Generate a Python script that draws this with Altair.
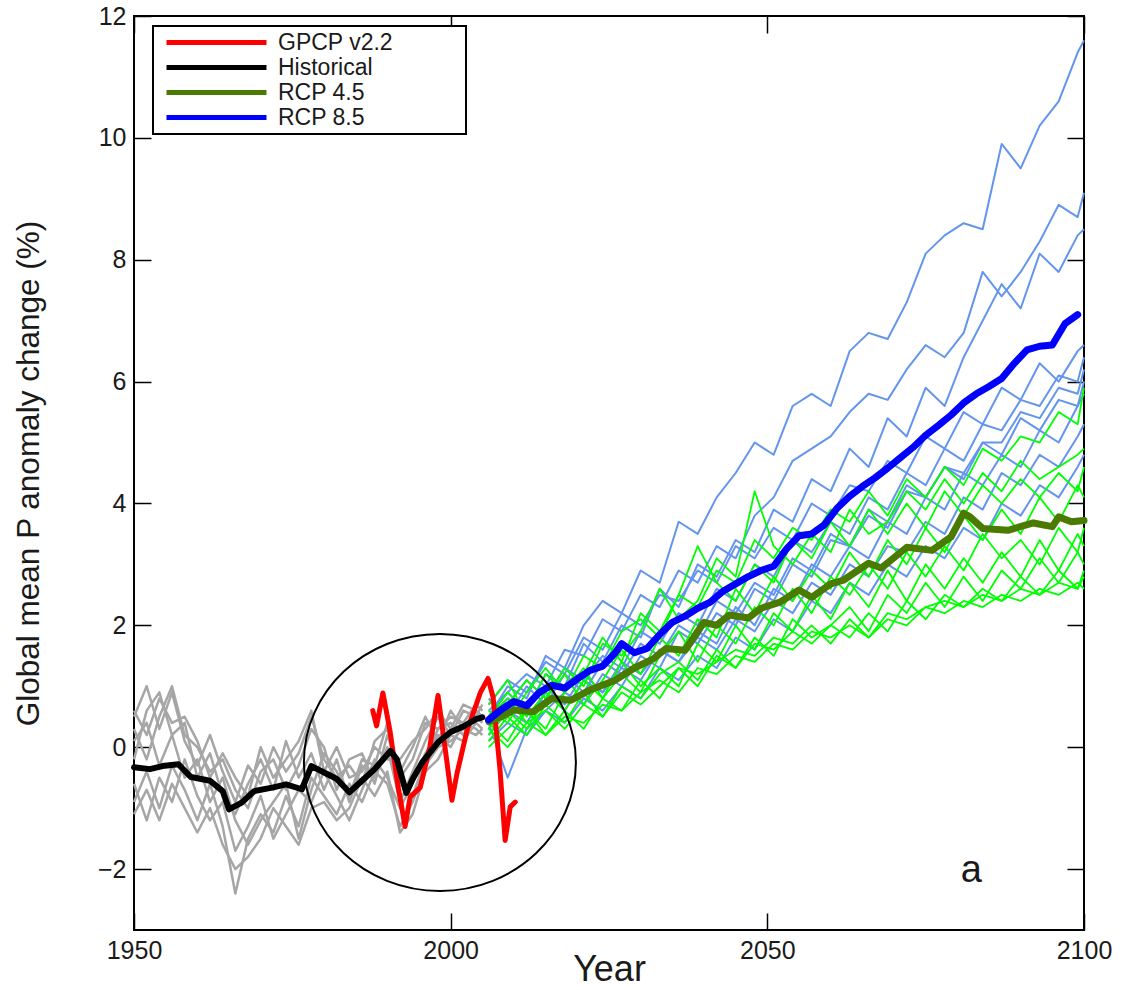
import altair as alt
import pandas as pd

FONT = "Liberation Sans, Arial, Helvetica, sans-serif"
TEXT_COLOR = "#1a1a1a"

# Axis ranges and tick positions
year_domain = [1950, 2100]
p_domain = [-3, 12]
year_ticks = [1950, 2000, 2050, 2100]
p_ticks = [-2, 0, 2, 4, 6, 8, 10, 12]

# Legend entries and their colours
series_names = ["GPCP v2.2", "Historical", "RCP 4.5", "RCP 8.5"]
series_colors = ["#ff0000", "#000000", "#4a7a00", "#0000ff"]

# ---------------------------------------------------------------------------
# Historical model runs (grey), every second year plus 2005
hist_years = [1950, 1952, 1954, 1956, 1958, 1960, 1962, 1964, 1966, 1968,
              1970, 1972, 1974, 1976, 1978, 1980, 1982, 1984, 1986, 1988,
              1990, 1992, 1994, 1996, 1998, 2000, 2002, 2004, 2005]
hist_run_1 = [0.5, 1.0, 0.3, 0.9, 0.1, -0.3, 0.2, -0.4, -0.9, -0.3,
              -0.6, 0.0, -0.4, -0.1, 0.5, -0.2, -0.5, -0.3, -0.6, 0.1,
              0.3, -0.5, -0.2, 0.4, 0.3, 0.5, 0.4, 0.7, 0.6]
hist_run_2 = [-0.2, 0.6, 0.9, 0.2, 0.4, -0.5, -0.1, -0.8, -1.1, -0.6,
              -0.2, -0.7, 0.1, -0.5, -0.1, -0.7, -0.2, -0.9, -0.3, -0.5,
              0.0, -0.9, -0.4, 0.1, 0.5, 0.2, 0.6, 0.5, 0.4]
hist_run_3 = [-0.9, -0.4, -1.0, -0.3, -0.7, -1.2, -0.6, -1.3, -2.4, -1.5,
              -1.1, -1.4, -0.8, -1.3, -0.5, -0.8, -1.1, -0.6, -0.9, -0.4,
              -0.6, -1.3, -0.9, -0.3, 0.0, 0.1, 0.3, 0.2, 0.3]
hist_run_4 = [0.3, -0.2, 0.5, 1.0, 0.2, 0.0, -0.4, -0.2, -0.7, -1.0,
              -0.4, -0.2, -0.7, -0.3, 0.3, 0.0, -0.7, -0.2, -0.1, -0.6,
              0.2, -0.4, 0.0, 0.5, 0.1, 0.6, 0.3, 0.5, 0.7]
hist_run_5 = [-0.6, -1.2, -0.5, -0.9, -0.2, -0.8, -1.2, -0.9, -1.7, -1.3,
              -0.8, -1.5, -1.1, -0.7, -0.9, -0.4, -0.8, -1.2, -0.7, -0.2,
              -0.5, -1.0, -0.6, -0.1, 0.2, 0.0, 0.4, 0.3, 0.2]
hist_run_6 = [0.1, 0.4, -0.3, 0.2, -0.5, -0.2, -0.9, -0.5, -1.2, -1.6,
              -1.2, -0.9, -0.6, -1.5, -0.7, -0.1, -0.4, -0.8, -0.2, -0.3,
              0.4, -0.6, -0.8, -0.2, 0.3, 0.4, 0.2, 0.6, 0.5]
hist_run_7 = [-1.1, -0.7, -1.2, -0.6, -1.0, -1.4, -1.0, -1.6, -2.0, -1.8,
              -1.5, -1.0, -1.3, -1.6, -1.0, -0.9, -1.2, -1.0, -0.5, -0.8,
              -0.4, -1.4, -1.1, -0.4, -0.2, 0.2, 0.1, 0.4, 0.3]
hist_run_8 = [0.6, 0.2, 0.8, 0.4, 0.5, 0.1, -0.5, -0.1, -0.5, -0.8,
              0.0, -0.5, -0.2, 0.1, 0.6, -0.4, 0.0, -0.5, -0.4, 0.0,
              -0.2, -0.2, 0.1, 0.3, 0.6, 0.3, 0.7, 0.6, 0.5]
hist_runs = [hist_run_1, hist_run_2, hist_run_3, hist_run_4,
             hist_run_5, hist_run_6, hist_run_7, hist_run_8]

# ---------------------------------------------------------------------------
# Projection runs, every third year plus 2100
proj_years = [2006, 2009, 2012, 2015, 2018, 2021, 2024, 2027, 2030, 2033,
              2036, 2039, 2042, 2045, 2048, 2051, 2054, 2057, 2060, 2063,
              2066, 2069, 2072, 2075, 2078, 2081, 2084, 2087, 2090, 2093,
              2096, 2099, 2100]

# RCP 8.5 runs (light blue)
rcp85_run_1 = [0.5, 1.0, 0.8, 1.5, 1.3, 2.0, 2.4, 2.2, 2.9, 2.7,
               3.7, 3.5, 4.1, 4.5, 5.0, 4.8, 5.6, 5.8, 5.6, 6.5,
               6.8, 6.7, 7.3, 8.1, 8.4, 8.6, 8.5, 9.9, 9.5, 10.2,
               10.6, 11.4, 11.6]
rcp85_run_2 = [0.6, 0.9, 1.2, 1.0, 1.6, 1.5, 2.1, 1.9, 2.5, 2.3,
               2.9, 2.7, 3.3, 3.1, 3.8, 4.1, 4.7, 4.9, 5.1, 5.5,
               5.8, 5.7, 6.2, 6.6, 6.4, 6.8, 7.8, 7.4, 7.8, 8.3,
               8.9, 8.7, 9.1]
rcp85_run_3 = [0.4, 0.8, 0.6, 1.2, 1.0, 1.7, 1.4, 2.0, 1.8, 2.6,
               2.3, 3.0, 2.8, 3.4, 3.2, 3.9, 3.7, 4.4, 4.2, 4.9,
               4.6, 5.4, 5.1, 5.9, 5.6, 6.4, 7.0, 7.6, 7.2, 8.1,
               7.8, 8.4, 8.5]
rcp85_run_4 = [0.7, 1.1, 0.9, 1.4, 1.2, 1.8, 1.6, 2.2, 2.0, 2.5,
               2.4, 2.9, 2.7, 3.3, 3.1, 3.6, 3.4, 4.0, 3.8, 4.3,
               4.2, 4.7, 4.5, 5.1, 4.9, 5.5, 5.3, 5.9, 5.7, 6.3,
               6.0, 6.5, 6.6]
rcp85_run_5 = [0.3, 0.7, 1.1, 0.8, 1.3, 1.1, 1.5, 1.3, 1.9, 1.7,
               2.2, 2.0, 2.6, 2.4, 3.0, 2.8, 3.4, 3.2, 3.7, 3.5,
               4.1, 3.9, 4.5, 4.3, 4.9, 4.7, 5.3, 5.2, 5.7, 5.6,
               6.1, 6.0, 6.4]
rcp85_run_6 = [0.4, -0.5, 0.3, 0.6, 0.9, 0.7, 1.2, 1.0, 1.5, 1.3,
               1.9, 1.7, 2.2, 2.0, 2.6, 2.4, 3.0, 2.8, 3.4, 3.3,
               3.8, 3.6, 4.2, 4.1, 4.6, 4.5, 5.0, 5.0, 5.5, 5.4,
               5.9, 5.8, 6.2]
rcp85_run_7 = [0.8, 0.5, 1.0, 0.7, 1.2, 0.9, 1.4, 1.2, 1.7, 1.5,
               2.0, 1.8, 2.4, 2.2, 2.7, 2.5, 3.1, 2.9, 3.5, 3.3,
               3.9, 3.7, 4.3, 4.1, 4.6, 4.4, 5.0, 4.8, 5.4, 5.2,
               5.7, 5.6, 6.0]
rcp85_run_8 = [0.2, 0.6, 0.4, 0.9, 0.6, 1.1, 0.9, 1.3, 1.1, 1.6,
               1.4, 1.9, 1.7, 2.3, 2.0, 2.6, 2.4, 3.0, 2.8, 3.3,
               3.1, 3.7, 3.5, 4.1, 3.9, 4.5, 4.3, 4.8, 4.6, 5.2,
               5.0, 5.6, 5.8]
rcp85_run_9 = [0.5, 0.9, 0.6, 1.0, 0.7, 1.2, 0.9, 1.4, 1.2, 1.6,
               1.4, 1.8, 1.6, 2.1, 1.9, 2.4, 2.2, 2.7, 2.5, 3.0,
               2.8, 3.3, 3.2, 3.7, 3.5, 4.1, 3.9, 4.5, 4.3, 4.8,
               4.6, 5.1, 5.3]
rcp85_run_10 = [0.1, 0.4, 0.2, 0.6, 0.4, 0.8, 0.6, 1.0, 0.8, 1.3,
                1.1, 1.5, 1.3, 1.8, 1.6, 2.1, 1.9, 2.4, 2.2, 2.7,
                2.5, 3.0, 2.8, 3.3, 3.1, 3.6, 3.4, 4.0, 3.8, 4.3,
                4.1, 4.6, 4.8]
rcp85_runs = [rcp85_run_1, rcp85_run_2, rcp85_run_3, rcp85_run_4, rcp85_run_5,
              rcp85_run_6, rcp85_run_7, rcp85_run_8, rcp85_run_9, rcp85_run_10]

# RCP 4.5 runs (green)
rcp45_run_1 = [0.5, 0.9, 0.6, 1.2, 0.9, 1.5, 1.3, 1.9, 2.1, 1.8,
               2.5, 2.3, 2.9, 2.7, 3.4, 3.1, 3.6, 3.4, 3.9, 3.7,
               4.2, 3.8, 4.4, 4.1, 4.6, 4.3, 4.9, 4.7, 5.1, 5.0,
               5.5, 5.3, 5.9]
rcp45_run_2 = [0.3, 0.7, 1.1, 0.8, 1.3, 1.0, 1.7, 1.5, 1.9, 2.6,
               2.1, 2.4, 3.1, 2.8, 4.2, 3.3, 3.0, 3.5, 3.2, 3.9,
               3.5, 3.7, 4.2, 3.9, 4.4, 4.0, 4.5, 4.2, 4.7, 4.4,
               4.6, 4.8, 4.9]
rcp45_run_3 = [0.6, 0.4, 0.9, 1.3, 0.9, 1.2, 1.8, 1.4, 2.2, 1.9,
               2.5, 3.3, 2.7, 2.4, 3.0, 2.7, 3.4, 3.1, 3.7, 3.3,
               3.9, 3.5, 4.0, 3.6, 4.2, 3.8, 4.3, 4.0, 4.4, 4.1,
               4.5, 4.2, 4.6]
rcp45_run_4 = [0.2, 0.6, 0.3, 0.8, 1.2, 0.7, 1.1, 1.6, 1.2, 1.8,
               1.5, 2.1, 1.8, 2.6, 2.2, 2.8, 2.4, 2.9, 2.6, 3.2,
               2.8, 3.4, 3.0, 3.6, 3.2, 3.8, 3.4, 3.9, 3.5, 4.1,
               3.7, 4.3, 4.1]
rcp45_run_5 = [0.4, 0.1, 0.6, 0.3, 0.9, 1.3, 0.8, 1.2, 0.9, 1.5,
               1.9, 1.4, 2.0, 1.7, 2.3, 2.0, 2.6, 2.2, 2.8, 2.5,
               3.0, 2.6, 3.2, 2.8, 3.3, 2.9, 3.5, 3.1, 3.4, 3.0,
               3.6, 3.2, 3.6]
rcp45_run_6 = [0.7, 1.1, 0.5, 0.9, 0.6, 1.1, 0.8, 1.4, 1.0, 1.3,
               1.0, 1.7, 1.4, 2.0, 1.6, 2.2, 1.9, 2.5, 2.1, 2.7,
               2.3, 2.9, 2.4, 3.0, 2.6, 3.1, 2.7, 3.2, 2.8, 3.4,
               2.9, 3.5, 3.3]
rcp45_run_7 = [0.1, 0.5, 0.2, 0.7, 0.4, 0.9, 0.5, 1.0, 0.8, 1.2,
               1.4, 1.1, 1.6, 1.3, 1.8, 1.5, 2.1, 1.8, 2.0, 2.3,
               1.9, 2.5, 2.2, 2.7, 2.3, 2.8, 2.4, 2.9, 2.6, 3.1,
               2.7, 3.2, 3.0]
rcp45_run_8 = [0.3, 0.0, 0.4, 0.2, 0.6, 0.3, 0.8, 0.6, 1.1, 0.8,
               1.3, 1.0, 1.5, 1.3, 1.7, 1.6, 1.9, 1.7, 2.0, 1.8,
               2.2, 1.9, 2.4, 2.1, 2.5, 2.3, 2.6, 2.4, 2.8, 2.5,
               2.9, 2.6, 2.9]
rcp45_run_9 = [0.5, 0.8, 0.4, 0.6, 0.3, 0.7, 0.5, 0.9, 0.7, 1.0,
               1.3, 1.2, 1.4, 1.6, 1.5, 1.8, 1.7, 2.0, 1.7, 2.1,
               1.8, 2.2, 2.1, 2.3, 2.4, 2.3, 2.5, 2.4, 2.6, 2.5,
               2.7, 2.6, 2.8]
rcp45_run_10 = [0.0, 0.3, 0.6, 0.2, 0.5, 0.4, 0.7, 0.6, 0.9, 1.1,
                0.9, 1.3, 1.2, 1.5, 1.4, 1.7, 1.6, 1.9, 1.8, 2.0,
                1.8, 2.1, 2.0, 2.3, 2.2, 2.4, 2.3, 2.5, 2.4, 2.6,
                2.5, 2.7, 2.6]
rcp45_runs = [rcp45_run_1, rcp45_run_2, rcp45_run_3, rcp45_run_4, rcp45_run_5,
              rcp45_run_6, rcp45_run_7, rcp45_run_8, rcp45_run_9, rcp45_run_10]

# ---------------------------------------------------------------------------
# Observations and ensemble means
gpcp_years = [1987.7, 1988.3, 1989.3, 1990.4, 1991.7, 1992.8, 1993.6, 1995.2,
              1996.7, 1998.0, 1999.1, 2000.2, 2001.0, 2002.6, 2003.9, 2004.7,
              2005.9, 2006.7, 2007.8, 2008.6, 2009.4, 2010.2]
gpcp_p = [0.6, 0.35, 0.89, 0.28, -0.65, -1.3, -0.82, -0.66,
          0.0, 0.85, 0.0, -0.87, -0.43, 0.28, 0.66, 0.9,
          1.13, 0.82, -0.38, -1.53, -0.98, -0.9]

hist_mean_years = [1950, 1952.5, 1954.5, 1957, 1959, 1962, 1964, 1965, 1967, 1969,
                   1972, 1974, 1976.5, 1978, 1980.5, 1982, 1984, 1986, 1988, 1990.5,
                   1991.5, 1993, 1994, 1995.5, 1998, 2000, 2002, 2004, 2005]
hist_mean_p = [-0.33, -0.36, -0.31, -0.28, -0.49, -0.55, -0.72, -1.02, -0.91, -0.72,
               -0.66, -0.61, -0.69, -0.31, -0.44, -0.52, -0.74, -0.55, -0.36, -0.06,
               -0.2, -0.75, -0.52, -0.25, 0.08, 0.25, 0.34, 0.46, 0.49]

rcp45_mean_years = [2006, 2008, 2010, 2013, 2016, 2019, 2022, 2026, 2029, 2032,
                    2034, 2037, 2040, 2042, 2044, 2047, 2049, 2052, 2055, 2057,
                    2060, 2062, 2066, 2068, 2072, 2076, 2079, 2081, 2082, 2084,
                    2088, 2092, 2095, 2096, 2098, 2100]
rcp45_mean_p = [0.42, 0.5, 0.61, 0.58, 0.8, 0.77, 0.94, 1.1, 1.3, 1.45,
                1.62, 1.59, 2.05, 2.0, 2.17, 2.12, 2.28, 2.38, 2.58, 2.46,
                2.68, 2.74, 3.02, 2.94, 3.28, 3.23, 3.45, 3.84, 3.78, 3.59,
                3.56, 3.68, 3.62, 3.78, 3.7, 3.72]

rcp85_mean_years = [2006, 2008, 2010, 2012, 2014, 2016, 2018, 2020, 2022, 2024,
                    2026, 2027, 2029, 2031, 2033, 2035, 2037, 2039, 2041, 2043,
                    2045, 2047, 2049, 2051, 2053, 2055, 2057, 2059, 2061, 2063,
                    2065, 2067, 2069, 2071, 2073, 2075, 2077, 2079, 2081, 2083,
                    2085, 2087, 2089, 2091, 2093, 2095, 2097, 2099]
rcp85_mean_p = [0.45, 0.62, 0.75, 0.68, 0.9, 1.02, 0.97, 1.12, 1.26, 1.33,
                1.55, 1.7, 1.55, 1.62, 1.85, 2.05, 2.15, 2.28, 2.38, 2.56,
                2.68, 2.8, 2.9, 2.97, 3.25, 3.47, 3.5, 3.65, 3.92, 4.12,
                4.28, 4.42, 4.58, 4.75, 4.92, 5.12, 5.28, 5.45, 5.65, 5.8,
                5.92, 6.05, 6.3, 6.52, 6.58, 6.6, 6.95, 7.1]

# Circled period and panel letter
highlight_year = [1998.3]
highlight_p = [-0.25]
panel_letter = ["a"]
panel_letter_year = [2082.2]
panel_letter_p = [-2.21]


# ---------------------------------------------------------------------------
def runs_frame(years, runs, tag):
    rows = []
    for k, run in enumerate(runs):
        if len(run) != len(years):
            raise ValueError(f"{tag}{k + 1}: {len(run)} values for {len(years)} years")
        rows += [{"year": y, "p": v, "run": f"{tag}{k + 1}"} for y, v in zip(years, run)]
    return pd.DataFrame(rows)


def series_frame(years, values, name):
    if len(years) != len(values):
        raise ValueError(name)
    return pd.DataFrame({"year": years, "p": values, "series": name})


hist_df = runs_frame(hist_years, hist_runs, "hist")
rcp85_df = runs_frame(proj_years, rcp85_runs, "rcp85_")
rcp45_df = runs_frame(proj_years, rcp45_runs, "rcp45_")
gpcp_df = series_frame(gpcp_years, gpcp_p, series_names[0])
hist_mean_df = series_frame(hist_mean_years, hist_mean_p, series_names[1])
rcp45_mean_df = series_frame(rcp45_mean_years, rcp45_mean_p, series_names[2])
rcp85_mean_df = series_frame(rcp85_mean_years, rcp85_mean_p, series_names[3])
highlight_df = pd.DataFrame({"year": highlight_year, "p": highlight_p})
letter_df = pd.DataFrame({"year": panel_letter_year, "p": panel_letter_p, "label": panel_letter})

# ---------------------------------------------------------------------------
x_scale = alt.Scale(domain=year_domain, nice=False, zero=False)
y_scale = alt.Scale(domain=p_domain, nice=False, zero=False)
TICK = 17

# inward ticks: each axis is pulled into the frame by its own tick length
x_axis_bottom = alt.Axis(orient="bottom", values=year_ticks, format="d",
                         offset=-TICK, tickSize=TICK, labelPadding=8,
                         labelFlush=False, title="Year", titleFontSize=36,
                         titleBaseline="alphabetic", titleY=67)
y_axis_left = alt.Axis(orient="left", values=p_ticks, offset=-TICK, tickSize=TICK,
                       labelPadding=8, labelFlush=False,
                       title="Global mean P anomaly change (%)", titleFontSize=31.5,
                       titleAngle=270, titleBaseline="alphabetic",
                       titleX=-113, titleY=457)
x_axis_top = alt.Axis(orient="top", values=year_ticks, offset=-TICK, tickSize=TICK,
                      labels=False, title=None)
y_axis_right = alt.Axis(orient="right", values=p_ticks, offset=-TICK, tickSize=TICK,
                        labels=False, title=None)

# legend labels carry trailing blank (braille-blank) glyphs so the framed box
# keeps its width to the right of the text
legend = alt.Legend(title=None, symbolType="M-0.3,0H9.7", symbolSize=400,
                    symbolStrokeWidth=5, labelLimit=400,
                    labelExpr="datum.label + '" + "\u2800" * 4 + "'")
color = alt.Color("series:N", scale=alt.Scale(domain=series_names, range=series_colors),
                  legend=legend)


def xy(x_axis=None, y_axis=None):
    return dict(
        x=alt.X("year:Q", scale=x_scale, axis=x_axis),
        y=alt.Y("p:Q", scale=y_scale, axis=y_axis),
    )


hist_runs_layer = alt.Chart(hist_df).mark_line(
    color="#a6a6a6", strokeWidth=2.5, strokeJoin="round"
).encode(detail="run:N", **xy(x_axis_bottom, y_axis_left))

rcp85_runs_layer = alt.Chart(rcp85_df).mark_line(
    color="#6495ed", strokeWidth=2, strokeJoin="round"
).encode(detail="run:N", **xy(x_axis_top, y_axis_right))

rcp45_runs_layer = alt.Chart(rcp45_df).mark_line(
    color="#00ff00", strokeWidth=1.8, strokeJoin="round"
).encode(detail="run:N", **xy())


def mean_layer(df, width):
    return alt.Chart(df).mark_line(
        strokeWidth=width, strokeJoin="round", strokeCap="round"
    ).encode(color=color, **xy())


gpcp_layer = mean_layer(gpcp_df, 5)
hist_mean_layer = mean_layer(hist_mean_df, 6)
rcp45_mean_layer = mean_layer(rcp45_mean_df, 7)
rcp85_mean_layer = mean_layer(rcp85_mean_df, 7)

highlight_layer = alt.Chart(highlight_df).mark_point(
    shape="M-1,0A1,0.945,0,1,1,1,0A1,0.945,0,1,1,-1,0Z",
    size=272 * 272, filled=False, stroke="black", strokeWidth=2, opacity=1
).encode(**xy())

letter_layer = alt.Chart(letter_df).mark_text(
    font=FONT, fontSize=38, color=TEXT_COLOR, align="center", baseline="alphabetic"
).encode(text="label:N", **xy())

chart = alt.layer(
    hist_runs_layer, rcp85_runs_layer, rcp45_runs_layer,
    gpcp_layer, hist_mean_layer, rcp45_mean_layer, rcp85_mean_layer,
    highlight_layer, letter_layer,
).resolve_axis(
    x="independent", y="independent"
).properties(
    width=950, height=914,
    autosize=alt.AutoSizeParams(type="none"),
    padding={"left": 134, "top": 16, "right": 38, "bottom": 60},
    background="white",
).configure_view(
    stroke="black", strokeWidth=2
).configure_axis(
    domain=False, grid=False,
    tickColor="black", tickWidth=1.5,
    labelFont=FONT, labelFontSize=25, labelColor=TEXT_COLOR,
    titleFont=FONT, titleFontWeight="normal", titleColor=TEXT_COLOR,
).configure_legend(
    orient="none", legendX=19, legendY=10, padding=4,
    strokeColor="black", strokeWidth=2, fillColor="white",
    labelFont=FONT, labelFontSize=23, labelColor=TEXT_COLOR,
    labelOffset=96, rowPadding=0,
)

chart.save("out.html", embed_options={"renderer": "svg", "actions": False})
